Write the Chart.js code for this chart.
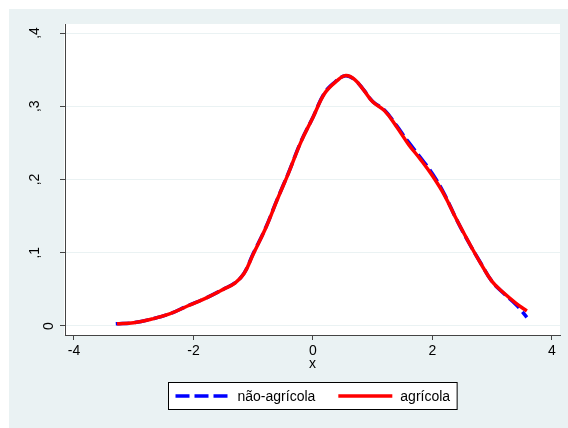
<!DOCTYPE html>
<html>
<head>
<meta charset="utf-8">
<script src="https://cdn.jsdelivr.net/npm/chart.js@4/dist/chart.umd.min.js"></script>
<style>
  html, body { margin: 0; padding: 0; background: #fff; }
  canvas { display: block; }
</style>
</head>
<body>
<canvas id="densityChart" width="568" height="428"></canvas>
<script>
// valores (densidade kernel)
const agricolaX = [-3.28, -3.0, -2.7, -2.4, -2.1, -1.8, -1.5, -1.3, -1.15, -1.0, -0.8, -0.6, -0.4, -0.2, 0.0, 0.2, 0.4, 0.55, 0.7, 0.85, 1.0, 1.2, 1.4, 1.6, 1.8, 2.0, 2.2, 2.4, 2.6, 2.8, 3.0, 3.2, 3.4, 3.58];
const agricolaY = [0.003, 0.0045, 0.0095, 0.0164, 0.0273, 0.0377, 0.050, 0.059, 0.072, 0.098, 0.132, 0.172, 0.2105, 0.2514, 0.2847, 0.318, 0.3347, 0.342, 0.3365, 0.322, 0.306, 0.2937, 0.272, 0.248, 0.2274, 0.205, 0.1787, 0.146, 0.1155, 0.0865, 0.0605, 0.0446, 0.031, 0.0205];

const naoAgricolaX = [-3.3, -3.0, -2.7, -2.4, -2.1, -1.8, -1.5, -1.3, -1.15, -1.0, -0.8, -0.6, -0.4, -0.2, 0.0, 0.2, 0.4, 0.55, 0.7, 0.85, 1.0, 1.2, 1.4, 1.6, 1.8, 2.0, 2.2, 2.4, 2.6, 2.8, 3.0, 3.2, 3.4, 3.5, 3.58];
const naoAgricolaY = [0.003, 0.0045, 0.0095, 0.0165, 0.0275, 0.0378, 0.0502, 0.0592, 0.0725, 0.099, 0.1325, 0.1725, 0.211, 0.252, 0.285, 0.319, 0.3352, 0.3418, 0.336, 0.3225, 0.3065, 0.2945, 0.2735, 0.251, 0.230, 0.208, 0.180, 0.146, 0.115, 0.087, 0.0605, 0.044, 0.029, 0.020, 0.0118];

const xTickValues = [-4, -2, 0, 2, 4];
const yTickValues = [0, 0.1, 0.2, 0.3, 0.4];
const yTickLabels = ['0', ',1', ',2', ',3', ',4'];

const FONT = '"Liberation Sans", Arial, Helvetica, sans-serif';
const BG = '#eaf2f3';

function toPoints(xs, ys) {
  return xs.map((x, i) => ({ x: x, y: ys[i] }));
}

// fundo estilo Stata (s2color)
const backgroundPlugin = {
  id: 'stataBackground',
  beforeDraw(chart) {
    const { ctx, chartArea } = chart;
    ctx.save();
    ctx.fillStyle = '#ffffff';
    ctx.fillRect(0, 0, chart.width, chart.height);
    ctx.fillStyle = BG;
    ctx.fillRect(9, 9, chart.width - 9, chart.height - 9);
    ctx.fillStyle = '#ffffff';
    ctx.fillRect(chartArea.left - 1, chartArea.top, chartArea.right - chartArea.left + 1, chartArea.bottom - chartArea.top);
    ctx.restore();
  }
};

// rótulos verticais do eixo y
const yLabelsPlugin = {
  id: 'yLabels',
  afterDraw(chart) {
    const { ctx } = chart;
    const yScale = chart.scales.y;
    ctx.save();
    ctx.font = '14px ' + FONT;
    ctx.fillStyle = '#000';
    ctx.textAlign = 'center';
    ctx.textBaseline = 'alphabetic';
    yTickValues.forEach((v, i) => {
      const label = yTickLabels[i];
      const py = yScale.getPixelForValue(v);
      const bx = label.indexOf(',') >= 0 ? 39 : 53;
      ctx.save();
      ctx.translate(bx, py);
      ctx.rotate(-Math.PI / 2);
      ctx.fillText(label, 0, 0);
      ctx.restore();
    });
    ctx.restore();
  }
};

// legenda com moldura
const legendPlugin = {
  id: 'boxLegend',
  afterDraw(chart) {
    const { ctx, chartArea } = chart;
    const sets = chart.data.datasets;
    const pad = 7, sample = 54, gap = 8, itemGap = 23;
    ctx.save();
    ctx.font = '14px ' + FONT;
    const widths = sets.map(d => ctx.measureText(d.label).width);
    let total = pad * 2 + itemGap * (sets.length - 1);
    widths.forEach(w => { total += sample + gap + w; });
    const cx = (chartArea.left + chartArea.right) / 2;
    const left = Math.round(cx - total / 2) + 0.5;
    const top = 382.5, h = 27;
    const cy = top + h / 2;
    ctx.fillStyle = '#fff';
    ctx.fillRect(left, top, total, h);
    ctx.strokeStyle = '#000';
    ctx.lineWidth = 1;
    ctx.strokeRect(left, top, total, h);

    let x = left + pad;
    sets.forEach((d, i) => {
      ctx.beginPath();
      ctx.strokeStyle = d.borderColor;
      ctx.lineWidth = d.borderWidth;
      ctx.setLineDash(d.borderDash || []);
      ctx.moveTo(x, cy);
      ctx.lineTo(x + sample, cy);
      ctx.stroke();
      ctx.setLineDash([]);
      x += sample + gap;
      ctx.fillStyle = '#000';
      ctx.textAlign = 'left';
      ctx.textBaseline = 'middle';
      ctx.fillText(d.label, x, cy + 1);
      x += widths[i] + itemGap;
    });
    ctx.restore();
  }
};

const ctx = document.getElementById('densityChart').getContext('2d');
const densityChart = new Chart(ctx, {
  type: 'line',
  data: {
    datasets: [
      {
        label: 'não-agrícola',
        data: toPoints(naoAgricolaX, naoAgricolaY),
        borderColor: '#0000ff',
        borderWidth: 3.5,
        borderDash: [14, 5],
        pointRadius: 0,
        tension: 0.4,
        fill: false,
        order: 2
      },
      {
        label: 'agrícola',
        data: toPoints(agricolaX, agricolaY),
        borderColor: '#ff0000',
        borderWidth: 3.5,
        pointRadius: 0,
        tension: 0.4,
        fill: false,
        order: 1
      }
    ]
  },
  options: {
    responsive: false,
    animation: false,
    layout: { padding: { left: 9, top: 24, right: 8, bottom: 53 } },
    plugins: {
      legend: { display: false },
      tooltip: { enabled: false }
    },
    scales: {
      x: {
        type: 'linear',
        min: -4.15,
        max: 4.135,
        afterBuildTicks: (scale) => { scale.ticks = xTickValues.map(v => ({ value: v })); },
        afterFit: (scale) => { scale.height = 40; },
        border: { color: '#444', width: 1 },
        grid: { drawOnChartArea: false, drawTicks: true, tickLength: 5, tickColor: '#444' },
        ticks: { color: '#000', font: { family: FONT, size: 14 }, padding: 3, maxRotation: 0 },
        title: { display: true, text: 'x', color: '#000', font: { family: FONT, size: 14 }, padding: { top: 0, bottom: 2 } }
      },
      y: {
        type: 'linear',
        min: -0.0123,
        max: 0.4123,
        afterBuildTicks: (scale) => { scale.ticks = yTickValues.map(v => ({ value: v })); },
        afterFit: (scale) => { scale.width = 56; },
        border: { color: '#444', width: 1 },
        grid: { color: BG, lineWidth: 1, drawTicks: true, tickLength: 5, tickColor: '#444' },
        ticks: { display: false }
      }
    }
  },
  plugins: [backgroundPlugin, yLabelsPlugin, legendPlugin]
});
</script>
</body>
</html>
